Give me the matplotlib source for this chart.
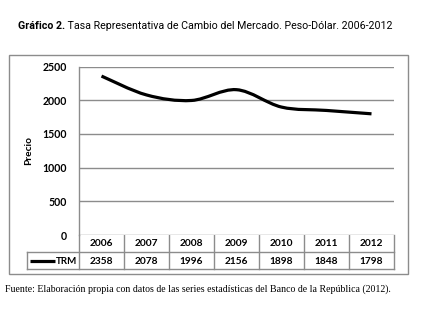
import matplotlib
matplotlib.use("Agg")
import matplotlib.pyplot as plt
import numpy as np
from matplotlib.path import Path
from matplotlib.patches import PathPatch
from matplotlib.lines import Line2D

years = ["2006", "2007", "2008", "2009", "2010", "2011", "2012"]
trm = [2358, 2078, 1996, 2156, 1898, 1848, 1798]
series_name = "TRM"
yticks = [0, 500, 1000, 1500, 2000, 2500]
ylabel = "Precio"
title_bold = "Gráfico 2."
title_rest = " Tasa Representativa de Cambio del Mercado. Peso-Dólar. 2006-2012"
source = "Fuente: Elaboración propia con datos de las series estadísticas del Banco de la República (2012)."

W, H = 423, 309
fig = plt.figure(figsize=(W / 100, H / 100), dpi=100)
fig.patch.set_facecolor("white")

SANS = ["Lato", "DejaVu Sans"]
NARROW = ["Roboto", "DejaVu Sans"]
SERIF = ["Liberation Serif", "DejaVu Serif"]
GRID = "#8c8c8c"

# pixel geometry
L, R, T, B = 79, 394, 66.5, 235
row1, row2 = 252, 269

ov = fig.add_axes([0, 0, 1, 1])
ov.set_xlim(0, W)
ov.set_ylim(H, 0)
ov.axis("off")

ax = fig.add_axes([L / W, (H - B) / H, (R - L) / W, (B - T) / H])
ax.set_xlim(-0.5, len(years) - 0.5)
ax.set_ylim(0, 2500)
ax.set_yticks(yticks)
ax.set_yticklabels([str(v) for v in yticks], fontfamily=SANS, fontsize=7.6, fontweight="bold")
ax.set_xticks([])
ax.tick_params(axis="y", length=0, pad=8.5)
for s in ["top", "right", "bottom"]:
    ax.spines[s].set_visible(False)
ax.spines["left"].set_color(GRID)
ax.spines["left"].set_linewidth(1)
ax.grid(axis="y", color=GRID, linewidth=1)
ax.set_axisbelow(True)
ax.set_ylabel(ylabel, fontfamily=SANS, fontsize=7.3, fontweight="bold", labelpad=7)

# smoothed line (Catmull-Rom -> cubic Bezier, like Excel smoothing)
xs = np.arange(len(trm), dtype=float)
ys = np.array(trm, dtype=float)
verts = [(xs[0], ys[0])]
codes = [Path.MOVETO]
n = len(xs)
t = 1 / 6
for i in range(n - 1):
    p0 = (xs[max(i - 1, 0)], ys[max(i - 1, 0)])
    p1 = (xs[i], ys[i])
    p2 = (xs[i + 1], ys[i + 1])
    p3 = (xs[min(i + 2, n - 1)], ys[min(i + 2, n - 1)])
    c1 = (p1[0] + (p2[0] - p0[0]) * t, p1[1] + (p2[1] - p0[1]) * t)
    c2 = (p2[0] - (p3[0] - p1[0]) * t, p2[1] - (p3[1] - p1[1]) * t)
    verts += [c1, c2, p2]
    codes += [Path.CURVE4] * 3
ax.add_patch(PathPatch(Path(verts, codes), facecolor="none", edgecolor="black",
                       linewidth=2.3, capstyle="butt", clip_on=False))

# data table
lw = 1
colw = (R - L) / len(years)
LEG = 27
FS = 7.3
ov.add_line(Line2D([LEG, R], [row1, row1], color=GRID, lw=lw))
ov.add_line(Line2D([LEG, R], [row2, row2], color=GRID, lw=lw))
ov.add_line(Line2D([LEG, LEG], [row1, row2], color=GRID, lw=lw))
for i in range(len(years) + 1):
    x = L + i * colw
    ov.add_line(Line2D([x, x], [B, row2], color=GRID, lw=lw))
for i, (yr, v) in enumerate(zip(years, trm)):
    cx = L + (i + 0.5) * colw
    ov.text(cx, (B + row1) / 2 + 0.5, yr, ha="center", va="center",
            fontfamily=SANS, fontsize=FS, fontweight="bold")
    ov.text(cx, (row1 + row2) / 2 + 0.5, f"{v}", ha="center", va="center",
            fontfamily=SANS, fontsize=FS, fontweight="bold")
ov.add_line(Line2D([30, 55], [(row1 + row2) / 2] * 2, color="black", lw=2.3, solid_capstyle="butt"))
ov.text(77.5, (row1 + row2) / 2 + 0.5, series_name, ha="right", va="center",
        fontfamily=SANS, fontsize=7.0, fontweight="bold")

# outer frame
ov.add_patch(plt.Rectangle((9, 55), 399, 219, fill=False, edgecolor=GRID, lw=1))

# title
TFS = 7.7
tb = ov.text(18, 26, title_bold, ha="left", va="center", fontfamily=NARROW,
             fontsize=TFS, fontweight="bold")
fig.canvas.draw()
bb = tb.get_window_extent()
x_end = ov.transData.inverted().transform((bb.x1, bb.y0))[0]
ov.text(x_end, 26, title_rest, ha="left", va="center", fontfamily=NARROW, fontsize=TFS)

# source
ov.text(5, 289, source, ha="left", va="center", fontfamily=SERIF, fontsize=7.1)

fig.savefig("out.png", dpi=100, facecolor="white")
